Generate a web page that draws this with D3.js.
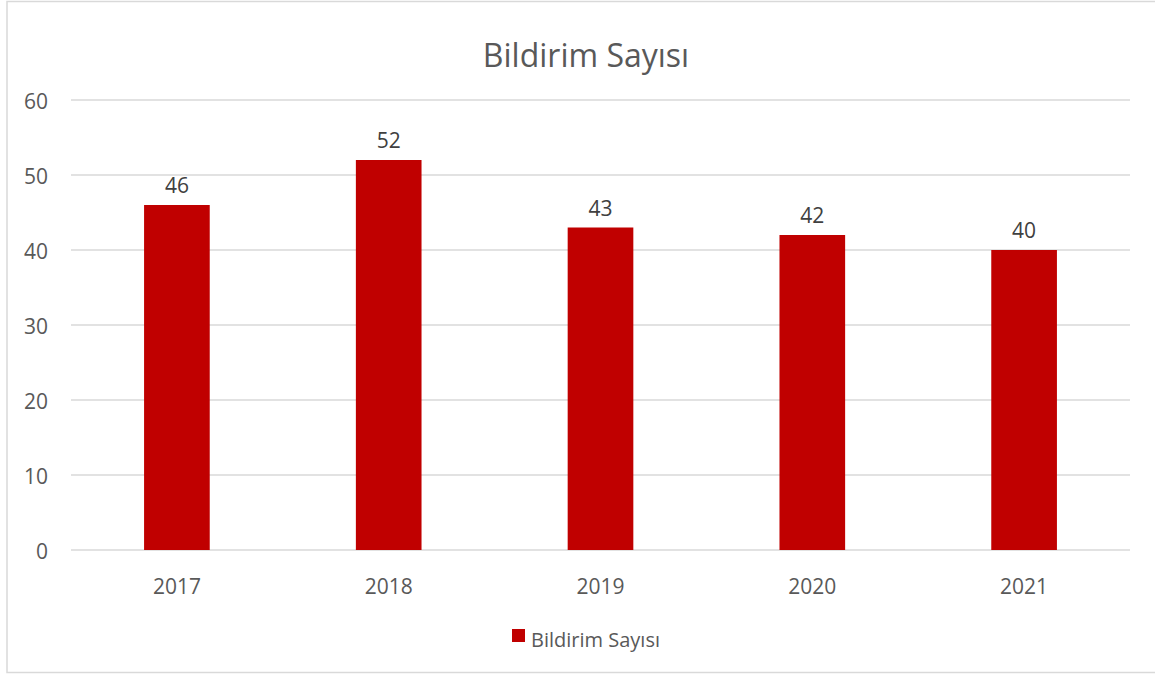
<!DOCTYPE html>
<html><head><meta charset="utf-8">
<script src="https://cdn.jsdelivr.net/npm/d3@7"></script>
<style>body{margin:0;background:#fff}svg{display:block}</style>
</head><body>
<svg id="c" width="1155" height="677"></svg>
<script>
const categories = ["2017","2018","2019","2020","2021"];
const values = [46,52,43,42,40];
const yTicks = [0,10,20,30,40,50,60];
const seriesName = "Bildirim Sayısı";
const title = "Bildirim Sayısı";

const svg = d3.select("#c");
const font = "'Open Sans', sans-serif";
const txt = "#595959";
svg.append("rect").attr("x",7).attr("y",1.5).attr("width",1160).attr("height",671)
  .attr("fill","#fff").attr("stroke","#d9d9d9").attr("stroke-width",1.5);

const x = d3.scaleBand().domain(categories).range([71,1130]).paddingInner(0.69).paddingOuter(0.345);
const y = d3.scaleLinear().domain([0,60]).range([550,100]);

svg.append("g").selectAll("line").data(yTicks).join("line")
  .attr("x1",71).attr("x2",1130).attr("y1",d=>y(d)).attr("y2",d=>y(d))
  .attr("stroke","#d9d9d9").attr("stroke-width",1.5);

const ya = svg.append("g").attr("transform","translate(48,0)")
  .call(d3.axisLeft(y).tickValues(yTicks).tickSize(0).tickPadding(0));
ya.select(".domain").remove();
ya.selectAll("text").attr("font-family",font).attr("font-size",21).attr("fill",txt).attr("dy","0.4em");

const xa = svg.append("g").attr("transform","translate(0,550)")
  .call(d3.axisBottom(x).tickSize(0).tickPadding(29));
xa.select(".domain").remove();
xa.selectAll("text").attr("font-family",font).attr("font-size",21).attr("fill",txt);

svg.append("g").selectAll("rect").data(values).join("rect")
  .attr("x",(d,i)=>x(categories[i])).attr("width",x.bandwidth())
  .attr("y",d=>y(d)).attr("height",d=>y(0)-y(d)).attr("fill","#c00000");

svg.append("g").selectAll("text").data(values).join("text")
  .attr("x",(d,i)=>x(categories[i])+x.bandwidth()/2).attr("y",d=>y(d)-12)
  .attr("text-anchor","middle").attr("font-family",font).attr("font-size",21).attr("fill","#404040")
  .text(d=>d);

svg.append("text").attr("x",586).attr("y",67).attr("text-anchor","middle")
  .attr("font-family",font).attr("font-size",32).attr("fill",txt).text(title);

svg.append("rect").attr("x",512).attr("y",629).attr("width",13).attr("height",13).attr("fill","#c00000");
svg.append("text").attr("x",531).attr("y",647).attr("font-family",font).attr("font-size",20).attr("fill",txt).text(seriesName);
</script>
</body></html>
